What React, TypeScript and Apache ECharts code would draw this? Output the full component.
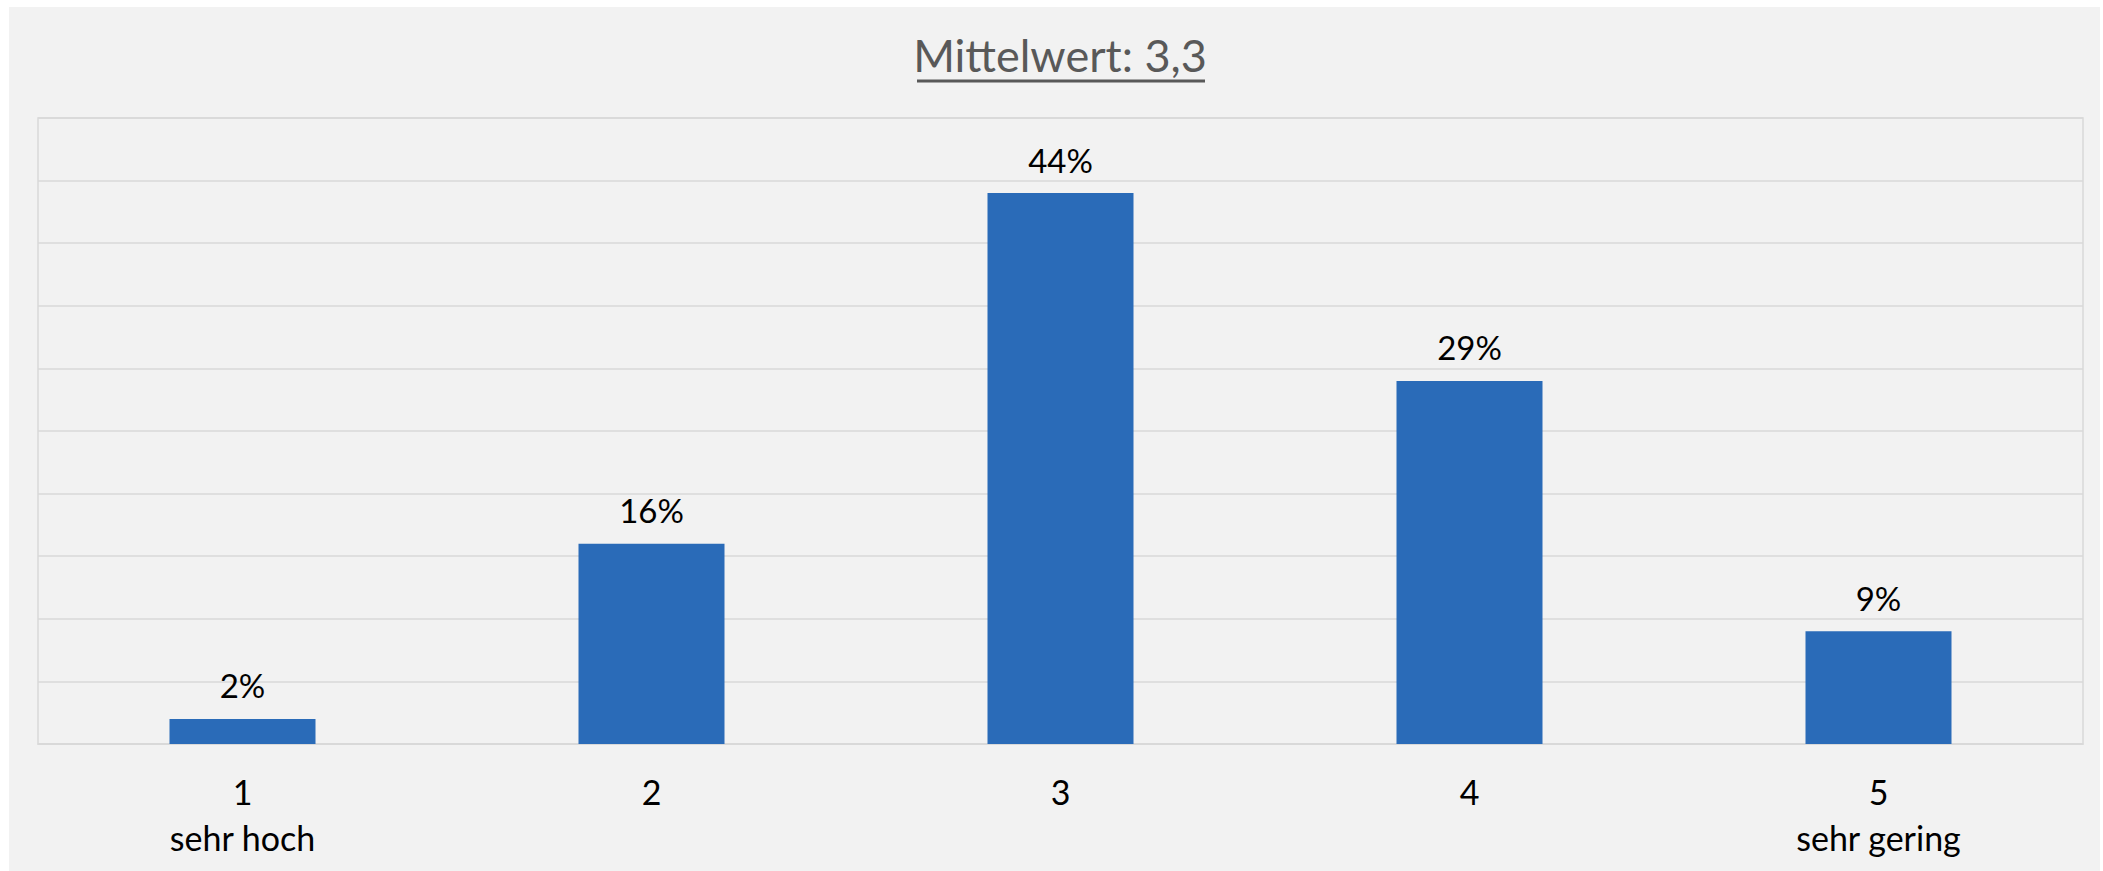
import React, { useEffect, useRef } from "react";
import * as echarts from "echarts";

const categories = ["1\nsehr hoch", "2", "3", "4", "5\nsehr gering"];
const values = [2, 16, 44, 29, 9];
const titleText = "Mittelwert: 3,3";

export default function App() {
  const ref = useRef<HTMLDivElement>(null);
  useEffect(() => {
    if (!ref.current) return;
    const chart = echarts.init(ref.current, undefined, { renderer: "svg" });
    const font = "Lato, 'Open Sans', sans-serif";
    chart.setOption({
      animation: false,
      backgroundColor: "#f2f2f2",
      graphic: [
        {
          type: "text",
          x: 1051,
          y: 25,
          style: {
            text: titleText,
            fontFamily: font,
            fontSize: 45,
            fill: "#595959",
            textAlign: "center",
            textVerticalAlign: "top",
          },
        },
        {
          type: "line",
          shape: { x1: 908, y1: 74, x2: 1196, y2: 74 },
          style: { stroke: "#595959", lineWidth: 3 },
        },
      ],
      grid: {
        left: 29,
        right: 17,
        top: 111,
        bottom: 127,
        show: true,
        borderColor: "#d9d9d9",
        borderWidth: 1.5,
      },
      xAxis: {
        type: "category",
        data: categories,
        axisLine: { lineStyle: { color: "#d9d9d9", width: 1.5 } },
        axisTick: { show: false },
        axisLabel: {
          color: "#000",
          fontFamily: font,
          fontSize: 34,
          lineHeight: 46,
          margin: 24,
        },
      },
      yAxis: {
        type: "value",
        min: 0,
        max: 50,
        interval: 5,
        axisLabel: { show: false },
        axisLine: { show: false },
        axisTick: { show: false },
        splitLine: { lineStyle: { color: "#d9d9d9", width: 1.5 } },
      },
      series: [
        {
          type: "bar",
          data: values,
          barWidth: "35.7%",
          itemStyle: { color: "#2a6bb8" },
          label: {
            show: true,
            position: "top",
            distance: 17,
            formatter: "{c}%",
            color: "#000",
            fontFamily: font,
            fontSize: 33,
          },
        },
      ],
    });
    return () => chart.dispose();
  }, []);
  return (
    <div
      ref={ref}
      style={{ position: "fixed", left: 9, top: 7, width: 2091, height: 864 }}
    />
  );
}
